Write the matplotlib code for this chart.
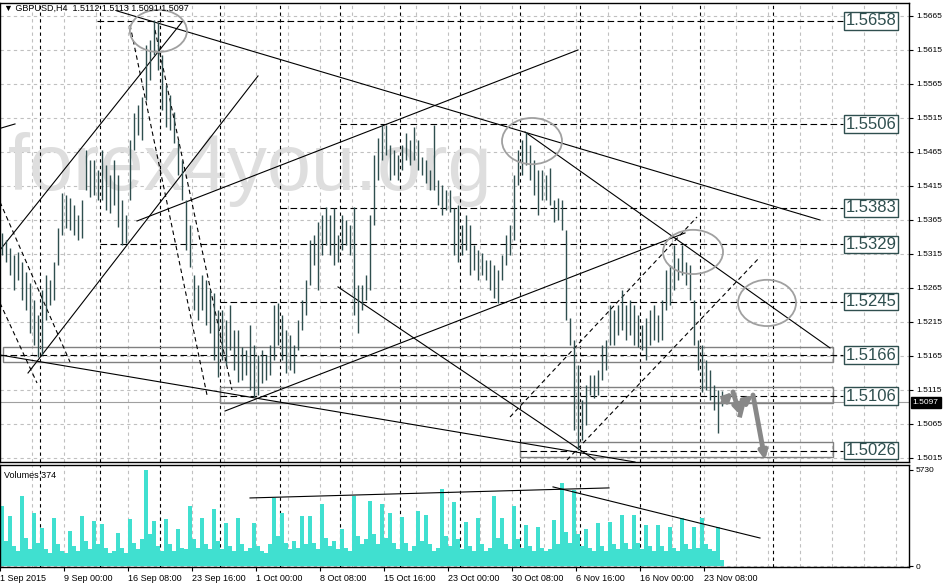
import matplotlib.pyplot as plt
from matplotlib.patches import Ellipse, Rectangle

# GBPUSD H4 bars, each entry = two H4 bars (high / low)
highs = [1.5346, 1.5336, 1.5324, 1.5313, 1.5318, 1.5303, 1.5289, 1.5272, 1.5247, 1.5225,
         1.5262, 1.5284, 1.5277, 1.5303, 1.5353, 1.5405, 1.5402, 1.5397, 1.5387, 1.5372,
         1.5394, 1.5468, 1.5453, 1.5453, 1.5438, 1.5468, 1.5446, 1.5431, 1.5453, 1.5431,
         1.5394, 1.5372, 1.5483, 1.5522, 1.5534, 1.5546, 1.5622, 1.5630, 1.5659, 1.5656,
         1.5608, 1.5564, 1.5549, 1.5524, 1.5483, 1.5453, 1.5394, 1.5358, 1.5284, 1.5269,
         1.5284, 1.5277, 1.5262, 1.5258, 1.5233, 1.5233, 1.5218, 1.5240, 1.5203, 1.5203,
         1.5178, 1.5174, 1.5210, 1.5181, 1.5166, 1.5174, 1.5166, 1.5181, 1.5240, 1.5243,
         1.5225, 1.5203, 1.5196, 1.5181, 1.5218, 1.5247, 1.5277, 1.5336, 1.5343, 1.5362,
         1.5372, 1.5384, 1.5372, 1.5383, 1.5343, 1.5372, 1.5365, 1.5358, 1.5384, 1.5269,
         1.5269, 1.5284, 1.5372, 1.5461, 1.5486, 1.5505, 1.5505, 1.5475, 1.5468, 1.5461,
         1.5475, 1.5493, 1.5483, 1.5502, 1.5483, 1.5458, 1.5453, 1.5438, 1.5505, 1.5424,
         1.5416, 1.5409, 1.5409, 1.5383, 1.5387, 1.5358, 1.5372, 1.5358, 1.5328, 1.5321,
         1.5317, 1.5306, 1.5306, 1.5299, 1.5291, 1.5313, 1.5343, 1.5358, 1.5431, 1.5468,
         1.5483, 1.5495, 1.5475, 1.5453, 1.5438, 1.5438, 1.5431, 1.5442, 1.5394, 1.5397,
         1.5394, 1.5350, 1.5221, 1.5189, 1.5152, 1.5100, 1.5122, 1.5137, 1.5137, 1.5144,
         1.5181, 1.5189, 1.5240, 1.5233, 1.5240, 1.5262, 1.5240, 1.5247, 1.5240, 1.5225,
         1.5210, 1.5221, 1.5233, 1.5240, 1.5225, 1.5247, 1.5291, 1.5299, 1.5328, 1.5309,
         1.5328, 1.5303, 1.5299, 1.5247, 1.5189, 1.5181, 1.5159, 1.5144, 1.5122, 1.5115,
         1.5113]
lows = [1.5314, 1.5303, 1.5284, 1.5262, 1.5277, 1.5247, 1.5233, 1.5199, 1.5181, 1.5164,
        1.5166, 1.5218, 1.5240, 1.5247, 1.5299, 1.5343, 1.5353, 1.5350, 1.5343, 1.5336,
        1.5339, 1.5409, 1.5399, 1.5402, 1.5394, 1.5394, 1.5380, 1.5375, 1.5387, 1.5355,
        1.5328, 1.5331, 1.5394, 1.5468, 1.5490, 1.5483, 1.5541, 1.5571, 1.5608, 1.5586,
        1.5527, 1.5502, 1.5497, 1.5478, 1.5431, 1.5394, 1.5321, 1.5296, 1.5233, 1.5218,
        1.5233, 1.5210, 1.5199, 1.5159, 1.5134, 1.5159, 1.5152, 1.5174, 1.5144, 1.5127,
        1.5130, 1.5137, 1.5115, 1.5105, 1.5108, 1.5125, 1.5130, 1.5137, 1.5159, 1.5181,
        1.5159, 1.5140, 1.5144, 1.5140, 1.5174, 1.5203, 1.5225, 1.5269, 1.5299, 1.5262,
        1.5313, 1.5328, 1.5313, 1.5299, 1.5303, 1.5321, 1.5328, 1.5313, 1.5225, 1.5199,
        1.5233, 1.5247, 1.5262, 1.5358, 1.5424, 1.5453, 1.5461, 1.5424, 1.5431, 1.5424,
        1.5438, 1.5453, 1.5446, 1.5453, 1.5438, 1.5431, 1.5420, 1.5409, 1.5409, 1.5387,
        1.5372, 1.5380, 1.5377, 1.5313, 1.5303, 1.5313, 1.5321, 1.5284, 1.5291, 1.5277,
        1.5284, 1.5277, 1.5262, 1.5250, 1.5243, 1.5277, 1.5299, 1.5313, 1.5336, 1.5416,
        1.5431, 1.5446, 1.5424, 1.5402, 1.5372, 1.5394, 1.5394, 1.5387, 1.5362, 1.5365,
        1.5350, 1.5218, 1.5181, 1.5056, 1.5027, 1.5041, 1.5063, 1.5108, 1.5103, 1.5108,
        1.5130, 1.5144, 1.5181, 1.5181, 1.5196, 1.5203, 1.5189, 1.5196, 1.5181, 1.5178,
        1.5174, 1.5159, 1.5181, 1.5189, 1.5186, 1.5189, 1.5233, 1.5240, 1.5262, 1.5277,
        1.5284, 1.5269, 1.5247, 1.5181, 1.5144, 1.5112, 1.5115, 1.5100, 1.5086, 1.5052,
        1.5091]
# tick volumes
volumes = [3580, 1500, 2990, 1200, 900, 4180, 1700, 1000, 3180, 1400,
           2290, 1000, 800, 2890, 1300, 900, 800, 2090, 1200, 900,
           2990, 1500, 1000, 2690, 1300, 2490, 1100, 800, 900, 1990,
           1100, 800, 2790, 1400, 1000, 1600, 5730, 1900, 2690, 1200,
           900, 2790, 1300, 900, 2190, 1100, 1000, 3580, 1600, 1100,
           2890, 1300, 1000, 3380, 1500, 1000, 2590, 1200, 900, 2890,
           1300, 900, 1100, 2590, 1200, 900, 800, 1300, 4080, 1800,
           3180, 1400, 1000, 1500, 1100, 2990, 1300, 2990, 1400, 1000,
           3680, 1700, 1200, 1500, 1000, 2190, 1100, 900, 4180, 1800,
           1300, 1600, 3880, 1900, 1300, 3680, 1700, 3180, 1400, 1000,
           2950, 1400, 900, 1200, 3270, 1500, 3060, 1300, 900, 1100,
           4620, 1800, 1200, 3790, 1600, 1000, 2640, 1200, 900, 2850,
           1300, 900, 1100, 4200, 1700, 2850, 1300, 1000, 3580, 1600,
           1100, 2430, 1200, 900, 2330, 1100, 900, 1000, 2750, 1300,
           4930, 2000, 1400, 4510, 1900, 1200, 2230, 1100, 900, 2540,
           1200, 900, 2640, 1300, 1000, 3060, 1400, 1000, 3060, 1400,
           1000, 2430, 1200, 900, 2430, 1200, 900, 2330, 1100, 900,
           2890, 1300, 1000, 2330, 1100, 2850, 1300, 1000, 900, 2330,
           374]

# support / resistance levels and where each line starts (bar index)
level_prices = [1.5658, 1.5506, 1.5383, 1.5329, 1.5245, 1.5166, 1.5106, 1.5026]
level_starts = [23.75, 84.5, 69.5, 24.5, 54.5, -0.5, 54.5, 129.5]
# gray zones: start, bottom, top
zone_starts = [0.25, 54.5, 129.5]
zone_bottoms = [1.5156, 1.5096, 1.5017]
zone_tops = [1.5178, 1.5119, 1.5039]

# hand drawn trend lines (bar index, price, bar index, price)
solid_lines = [(28.75, 1.56724, 204.5, 1.5365), (33.75, 1.53635, 144, 1.5615),
               (55.75, 1.50841, 170.75, 1.53459), (-0.5, 1.51665, 158.25, 1.50091),
               (130.75, 1.54944, 207, 1.51768), (84, 1.52665, 148.25, 1.50121),
               (-0.5, 1.53209, 45, 1.56562), (6.5, 1.5140, 64, 1.55768),
               (-0.5, 1.54997, 3.25, 1.55062)]
dashed_lines = [(127, 1.50753, 173.75, 1.53694), (141.25, 1.50121, 189.5, 1.53106),
                (32, 1.56518, 51.25, 1.51076), (38.25, 1.56444, 57.5, 1.5115),
                (-0.5, 1.53915, 17, 1.51562), (-0.5, 1.52429, 8.75, 1.51253)]
volume_lines = [(62, 4060, 151.75, 4660), (137.75, 4720, 189.5, 1670)]
# circles: centre bar, centre price, width in bars, height in price
circles = [(39.1, 1.5643, 14.25, 0.0062), (132.5, 1.5481, 15, 0.0068),
           (172.75, 1.5318, 15, 0.0065), (191.25, 1.5243, 14.5, 0.0068)]
# forecast path (bar index, price)
path_x = [180.25, 182.75, 184.5, 185.25, 187.75, 190.75]
path_y = [1.50974, 1.51121, 1.50782, 1.50959, 1.51076, 1.50121]

time_labels = ['1 Sep 2015', '9 Sep 00:00', '16 Sep 08:00', '23 Sep 16:00', '1 Oct 00:00',
               '8 Oct 08:00', '15 Oct 16:00', '23 Oct 00:00', '30 Oct 08:00', '6 Nov 16:00',
               '16 Nov 00:00', '23 Nov 08:00']
last_price = 1.5097

bar_color = '#2F4F4F'
font = 'Liberation Sans'

fig = plt.figure(figsize=(9.46, 5.84), dpi=100)
ax = fig.add_axes([0, 0.2089, 0.9609, 0.786])
axv = fig.add_axes([0, 0.0291, 0.9609, 0.1747])

xmin, xmax = -0.5, 226.75
x = list(range(len(highs)))

# grid: gray every 8 bars, black week separators every 15 bars
grid_x = [8 * k - 0.5 for k in range(1, 29)]
sep_x = [9.5 + 15 * k for k in range(12)] + [192.75]
price_ticks = [1.5015 + 0.005 * k for k in range(14)]
for a in (ax, axv):
    for gx in grid_x:
        a.axvline(gx, color='#C0C0C0', lw=0.8, ls=(0, (3, 3)), zorder=0)
    for sx in sep_x:
        a.axvline(sx, color='black', lw=0.8, ls=(0, (3, 3)), zorder=1)
for py in price_ticks:
    ax.axhline(py, color='#C0C0C0', lw=0.8, ls=(0, (3, 3)), zorder=0)

# watermark
ax.text(0.009, 0.593, 'forex4you.org', transform=ax.transAxes, fontsize=57,
        family=font, color='#DEDEDE', va='baseline', ha='left', zorder=0.5)

# zones
for s, b, t in zip(zone_starts, zone_bottoms, zone_tops):
    ax.add_patch(Rectangle((s, b), 207.75 - s, t - b, fill=False, ec='#808080', lw=1.0, zorder=2))

# levels with boxed labels
for p, s in zip(level_prices, level_starts):
    ax.plot([s, 210.25], [p, p], color='black', lw=0.8, ls=(0, (6, 3)), zorder=2)
    ax.text(210.9, p, '%.4f' % p, fontsize=12, family=font, color=bar_color, va='center',
            ha='left', zorder=5,
            bbox=dict(boxstyle='square,pad=0.08', fc='white', ec=bar_color, lw=1.0))

# bid line
ax.axhline(last_price, color='#A0A0A0', lw=0.8, zorder=1)

# trend lines
for x0, y0, x1, y1 in solid_lines:
    ax.plot([x0, x1], [y0, y1], color='black', lw=0.8, zorder=3)
for x0, y0, x1, y1 in dashed_lines:
    ax.plot([x0, x1], [y0, y1], color='black', lw=0.8, ls=(0, (4, 3)), zorder=3)
for cx, cy, w, h in circles:
    ax.add_patch(Ellipse((cx, cy), w, h, fill=False, ec='#A0A0A0', lw=1.3, zorder=4))

# price bars
ax.vlines(x, lows, highs, color=bar_color, lw=1.0, zorder=3.5)

# forecast arrows
arrow = dict(arrowstyle='-|>', color='#888888', lw=3.5, mutation_scale=11, shrinkA=0, shrinkB=0)
for i in (0, 1, 3, 4):
    ax.annotate('', xy=(path_x[i + 1], path_y[i + 1]), xytext=(path_x[i], path_y[i]),
                arrowprops=arrow, zorder=6)
ax.plot(path_x[2:4], path_y[2:4], color='#888888', lw=3.5, zorder=6)

ax.set_xlim(xmin, xmax)
ax.set_ylim(1.50091, 1.56841)
ax.yaxis.tick_right()
ax.set_yticks(price_ticks)
ax.set_yticklabels(['%.4f' % t for t in price_ticks], fontsize=6, family=font)
ax.tick_params(axis='y', length=3, width=0.8, pad=2)
ax.set_xticks([])
for sp in ax.spines.values():
    sp.set_color('black')
    sp.set_linewidth(1.0)

# header and current price label
ax.text(0.004, 0.989, '\u25bc GBPUSD,H4  1.5112 1.5113 1.5091 1.5097', transform=ax.transAxes,
        fontsize=6.5, family=[font, 'DejaVu Sans'], va='center', ha='left', zorder=7)
ax.text(1.004, last_price, '%.4f' % last_price, transform=ax.get_yaxis_transform(),
        fontsize=6, family=font, color='white', va='center', ha='left', zorder=7,
        bbox=dict(boxstyle='square,pad=0.25', fc='black', ec='black'), clip_on=False)

# volume panel
axv.bar(x, volumes, width=1.0, color='#40E0D0', linewidth=0, zorder=2)
for x0, y0, x1, y1 in volume_lines:
    axv.plot([x0, x1], [y0, y1], color='black', lw=0.8, zorder=3)
axv.axhline(0, color='#C0C0C0', lw=0.8, ls=(0, (3, 3)), zorder=0)
axv.set_xlim(xmin, xmax)
axv.set_ylim(-60, 6028)
axv.yaxis.tick_right()
axv.set_yticks([0, 5730])
axv.set_yticklabels(['0', '5730'], fontsize=6, family=font)
axv.tick_params(axis='y', length=3, width=0.8, pad=2)
axv.set_xticks([16 * k - 0.5 for k in range(len(time_labels))])
axv.set_xticklabels(time_labels, fontsize=6.5, family=font, ha='left')
axv.tick_params(axis='x', length=3, width=0.8, pad=2)
axv.text(0.004, 0.9, 'Volumes 374', transform=axv.transAxes, fontsize=6.5, family=font,
         va='center', ha='left')
for sp in axv.spines.values():
    sp.set_color('black')
    sp.set_linewidth(1.0)

fig.savefig('out.png', dpi=100)
